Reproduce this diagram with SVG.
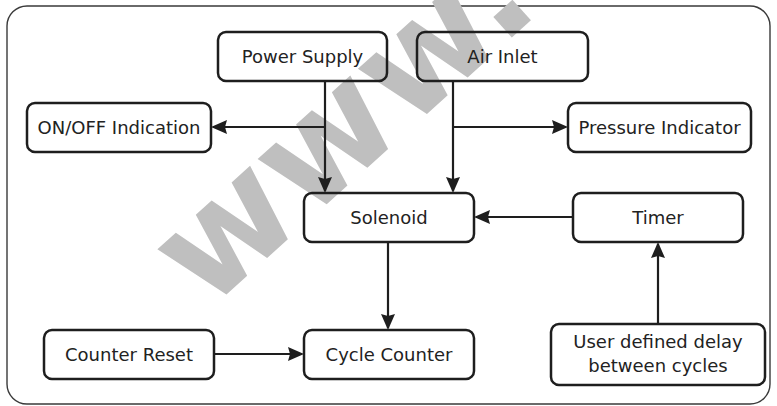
<svg xmlns="http://www.w3.org/2000/svg" width="777" height="406" viewBox="0 0 777 406">
<style>
.frame{fill:#ffffff;stroke:#3a3a3a;stroke-width:1.4}
.box{fill:none;stroke:#1e1e1e;stroke-width:2.5}
.lbl{font-family:"DejaVu Sans",Verdana,sans-serif;font-size:18px;fill:#222222;text-anchor:middle}
.wm{font-family:"DejaVu Sans",Verdana,sans-serif;font-weight:bold;font-size:146px;fill:#bfbfbf}
.conn{fill:none;stroke:#1e1e1e;stroke-width:2.2}
</style>
<defs>
<marker id="arr" viewBox="0 0 16 14" refX="14" refY="7" markerWidth="16" markerHeight="14" markerUnits="userSpaceOnUse" orient="auto">
<path d="M0,0 L16,7 L0,14 L2,7 Z" fill="#1e1e1e"/>
</marker>
</defs>
<rect x="0" y="0" width="777" height="406" fill="#ffffff"/>
<rect class="frame" x="7" y="6" width="763" height="398" rx="20" ry="20"/>
<text class="wm" transform="translate(207,312) rotate(-42)">www.</text>
<g id="connectors">
<path class="conn" d="M325,81 V191" marker-end="url(#arr)"/>
<path class="conn" d="M325,127 H213" marker-end="url(#arr)"/>
<path class="conn" d="M453,81 V191" marker-end="url(#arr)"/>
<path class="conn" d="M453,127 H566" marker-end="url(#arr)"/>
<path class="conn" d="M573,217 H476" marker-end="url(#arr)"/>
<path class="conn" d="M388,242 V328" marker-end="url(#arr)"/>
<path class="conn" d="M214,354 H302" marker-end="url(#arr)"/>
<path class="conn" d="M658,324 V244" marker-end="url(#arr)"/>
</g>
<g id="power-supply"><rect class="box" x="218" y="32" width="169" height="49" rx="8"/><text class="lbl" x="302.5" y="63">Power Supply</text></g>
<g id="air-inlet"><rect class="box" x="417" y="32" width="171" height="49" rx="8"/><text class="lbl" x="502.5" y="63">Air Inlet</text></g>
<g id="onoff-indication"><rect class="box" x="27" y="103" width="184" height="49" rx="8"/><text class="lbl" x="119" y="134">ON/OFF Indication</text></g>
<g id="pressure-indicator"><rect class="box" x="568" y="103" width="183" height="49" rx="8"/><text class="lbl" x="659.5" y="134">Pressure Indicator</text></g>
<g id="solenoid"><rect class="box" x="304" y="193" width="170" height="49" rx="8"/><text class="lbl" x="389" y="224">Solenoid</text></g>
<g id="timer"><rect class="box" x="573" y="193" width="170" height="49" rx="8"/><text class="lbl" x="658" y="224">Timer</text></g>
<g id="counter-reset"><rect class="box" x="44" y="330" width="170" height="49" rx="8"/><text class="lbl" x="129" y="361">Counter Reset</text></g>
<g id="cycle-counter"><rect class="box" x="304" y="330" width="170" height="49" rx="8"/><text class="lbl" x="389" y="361">Cycle Counter</text></g>
<g id="user-delay"><rect class="box" x="551" y="324" width="214" height="61" rx="8"/><text class="lbl" x="658" y="348">User defined delay</text><text class="lbl" x="658" y="372">between cycles</text></g>
</svg>
